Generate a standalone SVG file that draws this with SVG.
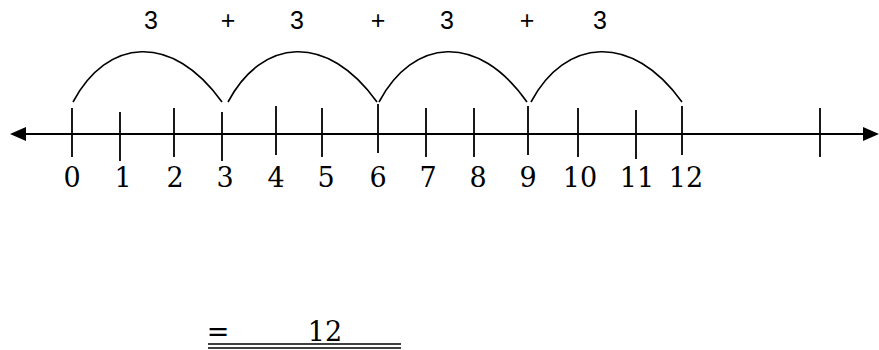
<svg xmlns="http://www.w3.org/2000/svg" width="879" height="350" viewBox="0 0 879 350">
<style>
.ax{stroke:#000;stroke-width:2.2;fill:none}
.tk{stroke:#000;stroke-width:1.8}
.arc{stroke:#000;stroke-width:1.6;fill:none}
.n{font-family:"DejaVu Serif","Liberation Serif",serif;font-size:27px;fill:#000;text-anchor:middle}
.t{font-family:"Liberation Sans",Arial,sans-serif;font-size:25px;fill:#000;text-anchor:middle}
.ul{stroke:#000;stroke-width:1.5}
</style>
<rect width="879" height="350" fill="#fff"/>
<g id="connectors">
<line class="ax" x1="22" y1="134" x2="866" y2="134"/>
<polygon points="10,134 26,127 26,141" fill="#000"/>
<polygon points="879,134 863,127 863,141" fill="#000"/>
<path class="arc" d="M73,102 C107,38 172,32 222,102"/>
<path class="arc" d="M228,102 C262,38 327,32 377,102"/>
<path class="arc" d="M379,102 C413,38 478,32 527,102"/>
<path class="arc" d="M531,102 C565,38 632,32 682,102"/>
</g>
<g id="ticks">
<line class="tk" x1="72" y1="108" x2="72" y2="157"/>
<line class="tk" x1="120" y1="112" x2="120" y2="161"/>
<line class="tk" x1="174" y1="108" x2="174" y2="157"/>
<line class="tk" x1="222" y1="112" x2="222" y2="161"/>
<line class="tk" x1="276" y1="106" x2="276" y2="155"/>
<line class="tk" x1="322" y1="108" x2="322" y2="157"/>
<line class="tk" x1="378" y1="104" x2="378" y2="153"/>
<line class="tk" x1="426" y1="108" x2="426" y2="157"/>
<line class="tk" x1="474" y1="108" x2="474" y2="157"/>
<line class="tk" x1="528" y1="106" x2="528" y2="155"/>
<line class="tk" x1="578" y1="108" x2="578" y2="157"/>
<line class="tk" x1="636" y1="110" x2="636" y2="159"/>
<line class="tk" x1="682" y1="106" x2="682" y2="155"/>
<line class="tk" x1="820" y1="108" x2="820" y2="157"/>
</g>
<g id="labels">
<text class="n" x="72" y="187">0</text>
<text class="n" x="123" y="187">1</text>
<text class="n" x="175" y="187">2</text>
<text class="n" x="225" y="187">3</text>
<text class="n" x="276" y="187">4</text>
<text class="n" x="326" y="187">5</text>
<text class="n" x="378" y="187">6</text>
<text class="n" x="428" y="187">7</text>
<text class="n" x="478" y="187">8</text>
<text class="n" x="528" y="187">9</text>
<text class="n" x="580" y="187">10</text>
<text class="n" x="637" y="187">11</text>
<text class="n" x="686" y="187">12</text>
</g>
<g id="sum">
<text class="t" x="151" y="29">3</text>
<text class="t" x="228" y="29">+</text>
<text class="t" x="297" y="29">3</text>
<text class="t" x="378" y="29">+</text>
<text class="t" x="447" y="29">3</text>
<text class="t" x="527" y="29">+</text>
<text class="t" x="600" y="29">3</text>
</g>
<g id="result">
<text class="n" x="218" y="341">=</text>
<text class="n" x="325" y="341">12</text>
<line class="ul" x1="208" y1="344" x2="401" y2="344"/>
<line class="ul" x1="208" y1="348" x2="401" y2="348"/>
</g>
</svg>
